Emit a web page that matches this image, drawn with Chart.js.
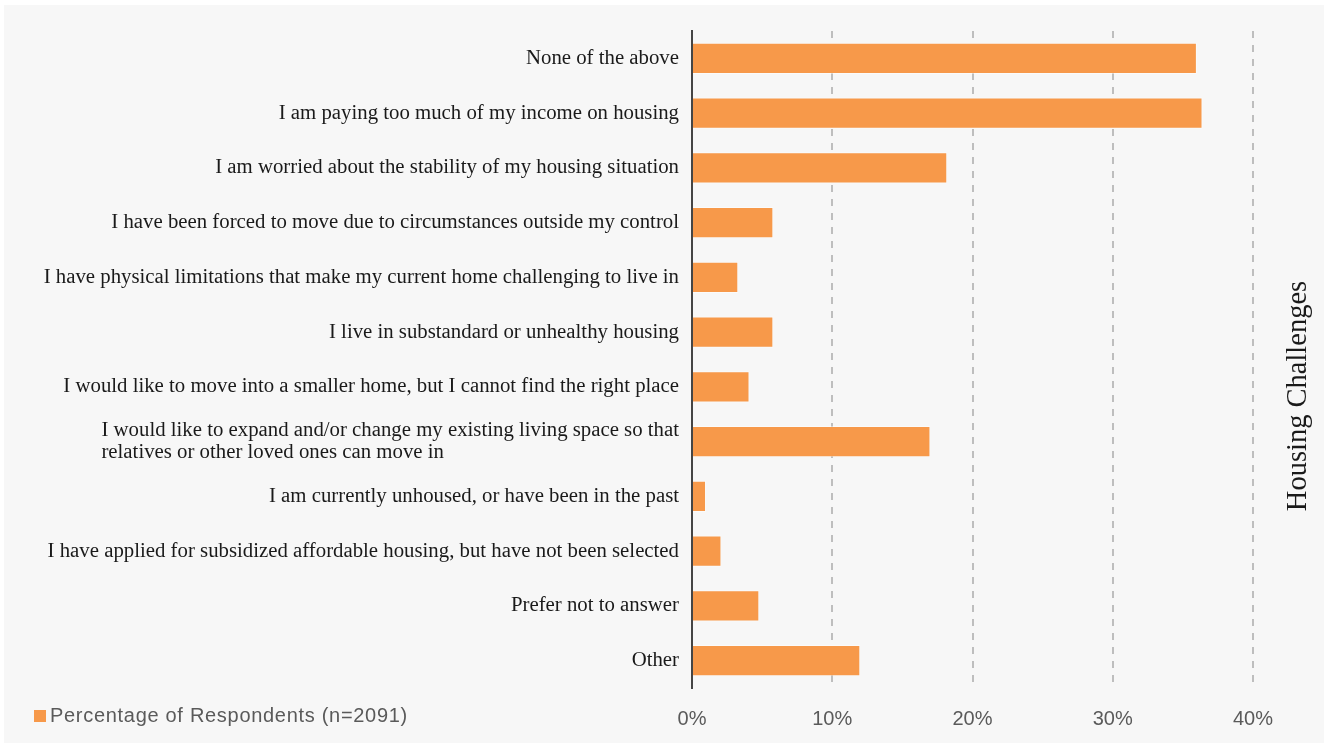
<!DOCTYPE html>
<html>
<head>
<meta charset="utf-8">
<title>Housing Challenges</title>
<script src="https://cdn.jsdelivr.net/npm/chart.js@4.4.1/dist/chart.umd.min.js"></script>
<style>
  html, body { margin: 0; padding: 0; background: #ffffff; }
  canvas { display: block; }
</style>
</head>
<body>
<canvas id="chart" width="1328" height="747"></canvas>
<script>
// 图表数据
const categories = [
  'None of the above',
  'I am paying too much of my income on housing',
  'I am worried about the stability of my housing situation',
  'I have been forced to move due to circumstances outside my control',
  'I have physical limitations that make my current home challenging to live in',
  'I live in substandard or unhealthy housing',
  'I would like to move into a smaller home, but I cannot find the right place',
  ['I would like to expand and/or change my existing living space so that', 'relatives or other loved ones can move in'],
  'I am currently unhoused, or have been in the past',
  'I have applied for subsidized affordable housing, but have not been selected',
  'Prefer not to answer',
  'Other'
];
const percentages = [36.0, 36.4, 18.2, 5.8, 3.3, 5.8, 4.1, 17.0, 1.0, 2.1, 4.8, 12.0];
const seriesLabel = 'Percentage of Respondents (n=2091)';
const axisTitle = 'Housing Challenges';
const xTicks = [0, 10, 20, 30, 40];

const COLORS = {
  bar: '#F7994A',
  barEdge: 'rgba(255,255,255,0.45)',
  panel: '#F7F7F7',
  grid: '#BEBEBE',
  axis: '#454545',
  label: '#1A1A1A',
  muted: '#5A5A5A'
};
const SERIF = '"Liberation Serif", "DejaVu Serif", serif';
const SANS = '"Liberation Sans", Arial, sans-serif';

// 背景面板
const panelPlugin = {
  id: 'panel',
  beforeDraw(chart) {
    const { ctx, width, height } = chart;
    ctx.save();
    ctx.fillStyle = '#ffffff';
    ctx.fillRect(0, 0, width, height);
    ctx.fillStyle = COLORS.panel;
    ctx.fillRect(4, 5, width - 8, height - 9);
    ctx.restore();
  }
};

// 分类标签：整体右对齐，多行时行内左对齐
const categoryLabelPlugin = {
  id: 'categoryLabels',
  afterDraw(chart) {
    const { ctx, chartArea } = chart;
    const yScale = chart.scales.y;
    const right = chartArea.left - 13;
    const lineHeight = 22;
    ctx.save();
    ctx.font = '20.8px ' + SERIF;
    ctx.fillStyle = COLORS.label;
    ctx.textBaseline = 'middle';
    ctx.textAlign = 'left';
    categories.forEach((label, i) => {
      const lines = Array.isArray(label) ? label : [label];
      const y = yScale.getPixelForValue(i);
      const maxW = Math.max(...lines.map(l => ctx.measureText(l).width));
      const x = right - maxW;
      const top = y - (lines.length - 1) * lineHeight / 2;
      lines.forEach((line, j) => {
        ctx.fillText(line, x, top + j * lineHeight);
      });
    });
    ctx.restore();
  }
};

// 右侧标题与左下图例
const extrasPlugin = {
  id: 'extras',
  afterDraw(chart) {
    const { ctx, chartArea } = chart;
    ctx.save();
    ctx.font = '28.5px ' + SERIF;
    ctx.fillStyle = COLORS.label;
    ctx.textAlign = 'center';
    ctx.textBaseline = 'alphabetic';
    ctx.translate(chartArea.right + 53, 396);
    ctx.rotate(-Math.PI / 2);
    ctx.fillText(axisTitle, 0, 0);
    ctx.restore();

    ctx.save();
    const legendY = chartArea.bottom + 28;
    ctx.fillStyle = chart.data.datasets[0].backgroundColor;
    ctx.fillRect(34, legendY - 6, 12, 12);
    ctx.font = '20px ' + SANS;
    ctx.letterSpacing = '0.7px';
    ctx.fillStyle = COLORS.muted;
    ctx.textAlign = 'left';
    ctx.textBaseline = 'middle';
    ctx.fillText(chart.data.datasets[0].label, 50, legendY);
    ctx.restore();
  }
};

new Chart(document.getElementById('chart'), {
  type: 'bar',
  data: {
    labels: categories,
    datasets: [{
      label: seriesLabel,
      data: percentages,
      backgroundColor: COLORS.bar,
      borderColor: COLORS.barEdge,
      borderWidth: 1,
      categoryPercentage: 1,
      barPercentage: 0.57
    }]
  },
  options: {
    indexAxis: 'y',
    responsive: false,
    animation: false,
    devicePixelRatio: 1,
    layout: { padding: { top: 31, right: 75, bottom: 0, left: 0 } },
    plugins: {
      legend: { display: false },
      tooltip: { enabled: false }
    },
    scales: {
      x: {
        min: xTicks[0],
        max: xTicks[xTicks.length - 1],
        afterBuildTicks(scale) {
          scale.ticks = xTicks.map(v => ({ value: v }));
        },
        afterFit(scale) { scale.height = 59; },
        grid: {
          color: COLORS.grid,
          lineWidth: 2,
          drawTicks: false
        },
        border: { display: false, dash: [7, 7] },
        ticks: {
          padding: 19,
          color: COLORS.muted,
          font: { family: SANS, size: 20 },
          callback: v => v + '%'
        }
      },
      y: {
        afterFit(scale) { scale.width = 692; },
        grid: { display: false },
        border: { display: true, color: COLORS.axis, width: 2 },
        ticks: { display: false }
      }
    }
  },
  plugins: [panelPlugin, categoryLabelPlugin, extrasPlugin]
});
</script>
</body>
</html>
